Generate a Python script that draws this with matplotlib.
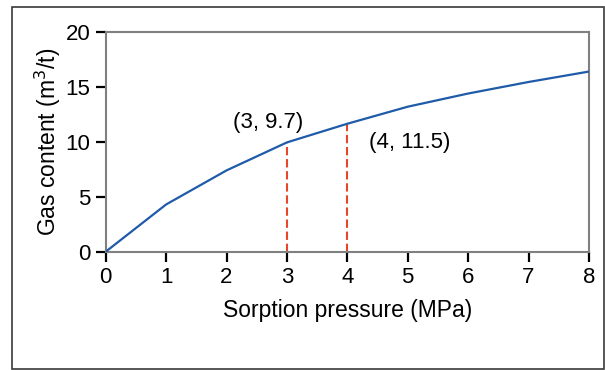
import matplotlib.pyplot as plt
from matplotlib.patches import Rectangle

plt.rcParams['font.family'] = ['Liberation Sans', 'DejaVu Sans']

pressure = [0, 1, 2, 3, 4, 5, 6, 7, 8]
gas = [0, 4.3, 7.4, 9.95, 11.65, 13.2, 14.4, 15.45, 16.4]
marked_x = [3, 4]
marked_y = [9.95, 11.65]
marked_labels = ['(3, 9.7)', '(4, 11.5)']
label_pos = [(2.69, 11.76), (5.03, 9.9)]

fig = plt.figure(figsize=(6.05, 3.70), dpi=100)
ax = fig.add_axes([0.1747, 0.3197, 0.7988, 0.5938])

# outer frame round the whole figure
fig.patches.append(Rectangle((12 / 605, 1 - 369 / 370), 592 / 605, 362 / 370,
                             transform=fig.transFigure, fill=False,
                             edgecolor='#3a3a3a', lw=1.2))

ax.plot(pressure, gas, color='#1f5ba8', lw=1.6, zorder=3)
for x, y in zip(marked_x, marked_y):
    ax.plot([x, x], [0, y], color='#e8462a', lw=1.5, ls=(0, (4, 1.8)), zorder=2)
for txt, (tx, ty) in zip(marked_labels, label_pos):
    ax.text(tx, ty, txt, ha='center', va='center', fontsize=16)

ax.set_xlim(0, 8)
ax.set_ylim(0, 20)
ax.set_xticks(range(0, 9))
ax.set_yticks(range(0, 21, 5))
for s in ax.spines.values():
    s.set_color('#808080')
    s.set_linewidth(1.5)
ax.tick_params(direction='out', length=7, width=1.6, color='black',
               labelsize=16, pad=4)
ax.tick_params(axis='x', pad=4)

ax.set_xlabel('Sorption pressure (MPa)', fontsize=16.5, labelpad=8)
ax.set_ylabel('Gas content (m$^3$/t)', fontsize=16.5, labelpad=1.5)

fig.savefig('out.png', dpi=100)
